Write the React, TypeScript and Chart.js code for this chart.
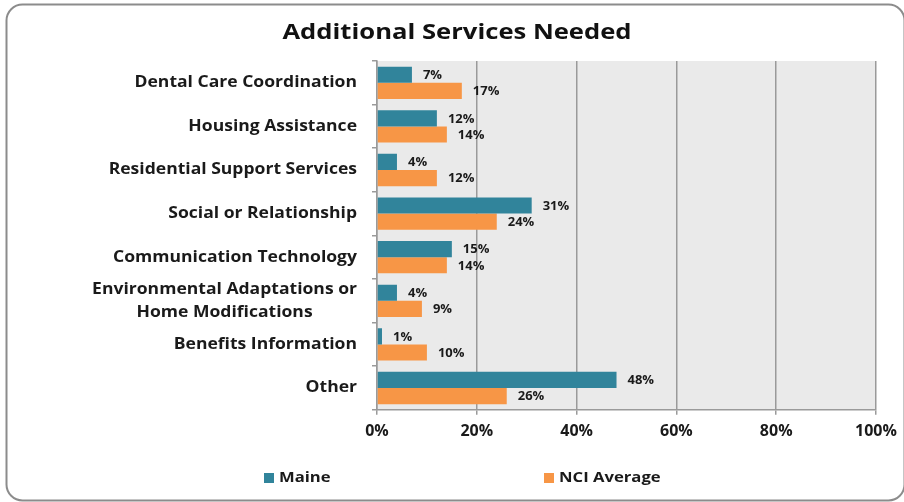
import React, { useEffect, useRef } from "react";
import { Chart, registerables } from "chart.js";

Chart.register(...registerables);

const chartTitle = "Additional Services Needed";
const categories: (string | string[])[] = [
  "Dental Care Coordination",
  "Housing Assistance",
  "Residential Support Services",
  "Social or Relationship",
  "Communication Technology",
  ["Environmental Adaptations or", "Home Modifications"],
  "Benefits Information",
  "Other",
];
const seriesNames = ["Maine", "NCI Average"];
const maineValues = [7, 12, 4, 31, 15, 4, 1, 48];
const nciValues = [17, 14, 12, 24, 14, 9, 10, 26];
const xTickValues = [0, 20, 40, 60, 80, 100];

const COLORS = ["#31849B", "#F79646"];
const FONT = '"Open Sans", "DejaVu Sans", sans-serif';
const TEXT = "#1a1a1a";

function drawText(ctx: any, text: string, x: number, y: number, align: "left" | "right" | "center", sx: number) {
  const w = ctx.measureText(text).width * sx;
  let left = x;
  if (align === "right") left = x - w;
  else if (align === "center") left = x - w / 2;
  ctx.save();
  ctx.translate(left, y);
  ctx.scale(sx, 1);
  ctx.textAlign = "left";
  ctx.textBaseline = "middle";
  ctx.fillText(text, 0, 0);
  ctx.restore();
}

const decoPlugin = {
  id: "deco",
  beforeDraw(chart: any) {
    const { ctx, chartArea: a } = chart;
    ctx.save();
    ctx.fillStyle = "#ffffff";
    ctx.fillRect(0, 0, chart.width, chart.height);
    ctx.beginPath();
    ctx.roundRect(6.5, 4.5, 898, 496, 16);
    ctx.strokeStyle = "#8c8c8c";
    ctx.lineWidth = 2;
    ctx.stroke();
    ctx.fillStyle = "#EAEAEA";
    ctx.fillRect(a.left, a.top, a.right - a.left, a.bottom - a.top);
    ctx.restore();
  },
  afterDraw(chart: any) {
    const { ctx } = chart;
    const yScale = chart.scales.y;
    ctx.save();
    // title
    ctx.fillStyle = "#111";
    ctx.font = `bold 21px ${FONT}`;
    drawText(ctx, chartTitle, 457, 33, "center", 1.22);

    // category labels
    ctx.font = `bold 15.4px ${FONT}`;
    ctx.fillStyle = TEXT;
    const sxLab = 1.14;
    const rightEdge = 357;
    categories.forEach((lab, i) => {
      const y = yScale.getPixelForValue(i);
      const lines = Array.isArray(lab) ? lab : [lab];
      const widths = lines.map((l) => ctx.measureText(l).width * sxLab);
      const maxW = Math.max(...widths);
      const cx = rightEdge - maxW / 2;
      const lh = 23;
      lines.forEach((l, j) => {
        drawText(ctx, l, cx, y + (j - (lines.length - 1) / 2) * lh, "center", sxLab);
      });
    });

    // data labels
    ctx.font = `bold 11.6px ${FONT}`;
    chart.data.datasets.forEach((ds: any, di: number) => {
      const meta = chart.getDatasetMeta(di);
      meta.data.forEach((el: any, i: number) => {
        drawText(ctx, ds.data[i] + "%", el.x + 11, el.y + 1, "left", 1.12);
      });
    });

    // legend
    ctx.font = `bold 15px ${FONT}`;
    const legendX = [264, 544];
    seriesNames.forEach((name, i) => {
      ctx.fillStyle = COLORS[i];
      ctx.fillRect(legendX[i], 473, 10, 10);
      ctx.fillStyle = TEXT;
      drawText(ctx, name, legendX[i] + 15, 478, "left", 1.11);
    });
    ctx.restore();
  },
};

export default function App() {
  const ref = useRef<HTMLCanvasElement | null>(null);
  useEffect(() => {
    document.body.style.margin = "0";
    if (!ref.current) return;
    const chart = new Chart(ref.current, {
      type: "bar",
      data: {
        labels: categories as any,
        datasets: [
          {
            label: seriesNames[0],
            data: maineValues,
            backgroundColor: COLORS[0],
            categoryPercentage: 0.74,
            barPercentage: 1,
          },
          {
            label: seriesNames[1],
            data: nciValues,
            backgroundColor: COLORS[1],
            categoryPercentage: 0.74,
            barPercentage: 1,
          },
        ],
      },
      options: {
        indexAxis: "y",
        animation: false,
        responsive: false,
        maintainAspectRatio: false,
        layout: { padding: { left: 372, right: 28, top: 61, bottom: 54 } },
        plugins: {
          legend: { display: false },
          tooltip: { enabled: false },
          title: { display: false },
        },
        scales: {
          x: {
            min: 0,
            max: 100,
            afterBuildTicks: (scale: any) => {
              scale.ticks = xTickValues.map((v) => ({ value: v }));
            },
            ticks: {
              callback: (v: any) => v + "%",
              font: { family: FONT, size: 16, weight: "bold" },
              color: TEXT,
              padding: 7,
            },
            grid: {
              color: "#9a9a9a",
              lineWidth: 1.5,
              tickLength: 5,
            },
            border: { color: "#9a9a9a", width: 1.5 },
          },
          y: {
            ticks: { display: false },
            grid: {
              drawOnChartArea: false,
              color: "#9a9a9a",
              lineWidth: 1.5,
              tickLength: 5,
              offset: true,
            },
            border: { color: "#9a9a9a", width: 1.5 },
          },
        },
      },
      plugins: [decoPlugin],
    });
    return () => chart.destroy();
  }, []);
  return (
    <div style={{ width: 904, height: 502 }}>
      <canvas ref={ref} width={904} height={502} style={{ display: "block" }} />
    </div>
  );
}
